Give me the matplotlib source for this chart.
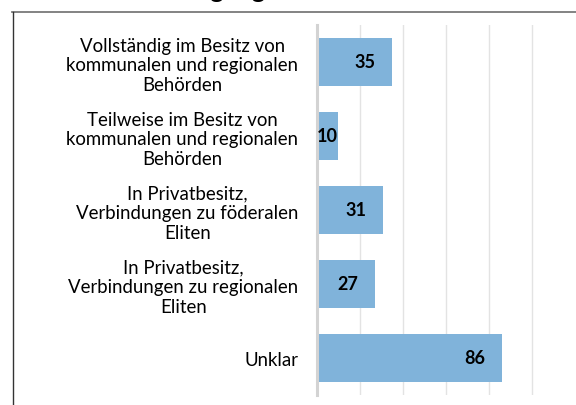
import matplotlib
matplotlib.use("Agg")
import matplotlib.pyplot as plt
from matplotlib.lines import Line2D

plt.rcParams['font.family'] = ['Lato', 'DejaVu Sans']

#------------------------------#
# DATA
#------------------------------#

categories = [
    'Vollständig im Besitz von\nkommunalen und regionalen\nBehörden',
    'Teilweise im Besitz von\nkommunalen und regionalen\nBehörden',
    'In Privatbesitz,\nVerbindungen zu föderalen\nEliten',
    'In Privatbesitz,\nVerbindungen zu regionalen\nEliten',
    'Unklar',
]
values = [35, 10, 31, 27, 86]
grid_ticks = [0, 20, 40, 60, 80, 100]
title = 'Beteiligung an den Medien'

#------------------------------#
# PLOT
#------------------------------#

W, H = 576, 406
fig = plt.figure(figsize=(W / 100, H / 100), dpi=100)
ax = fig.add_axes([316.5 / W, 10 / H, 259.2 / W, 370 / H])

pos = list(range(len(categories)))
ax.barh(pos, values, height=0.64, color='#80b3da', zorder=2)
ax.set_ylim(len(categories) - 0.5, -0.5)
ax.set_xlim(0, 120)

ax.set_yticks(pos)
ax.set_yticklabels(categories, fontsize=13.4, color='black', linespacing=1.17)
for lab in ax.get_yticklabels():
    lab.set_multialignment('center')
ax.tick_params(axis='y', length=0, pad=13)

ax.set_xticks(grid_ticks)
ax.tick_params(axis='x', length=0, labelbottom=False)
ax.xaxis.grid(True, color='#e3e3e3', linewidth=1.0, zorder=0)
ax.set_axisbelow(True)

for side in ['top', 'right', 'bottom']:
    ax.spines[side].set_visible(False)
ax.spines['left'].set_color('#d3d3d3')
ax.spines['left'].set_linewidth(2.2)
ax.spines['left'].set_zorder(3)

for p, v in zip(pos, values):
    if v < 20:
        ax.annotate(str(v), (0, p), xytext=(0.5, 0), textcoords='offset points',
                    ha='left', va='center', fontsize=13, fontweight='bold', zorder=4)
    else:
        ax.annotate(str(v), (v, p), xytext=(-12, 0), textcoords='offset points',
                    ha='right', va='center', fontsize=13, fontweight='bold', zorder=4)

# outer chart frame, cut off at the right and bottom
fig.add_artist(Line2D([12 / W, 1.0], [1 - 12.5 / H, 1 - 12.5 / H],
                      transform=fig.transFigure, color='#7a7a7a', linewidth=1.3))
fig.add_artist(Line2D([13 / W, 13 / W], [0, 1 - 12.5 / H],
                      transform=fig.transFigure, color='#333333', linewidth=1.0))

# title sits above the visible area, only its descenders show
fig.text(288 / W, 1 + 1.5 / H, title, ha='center', va='baseline',
         fontsize=18, fontweight='bold')

fig.savefig('out.png', dpi=100)
